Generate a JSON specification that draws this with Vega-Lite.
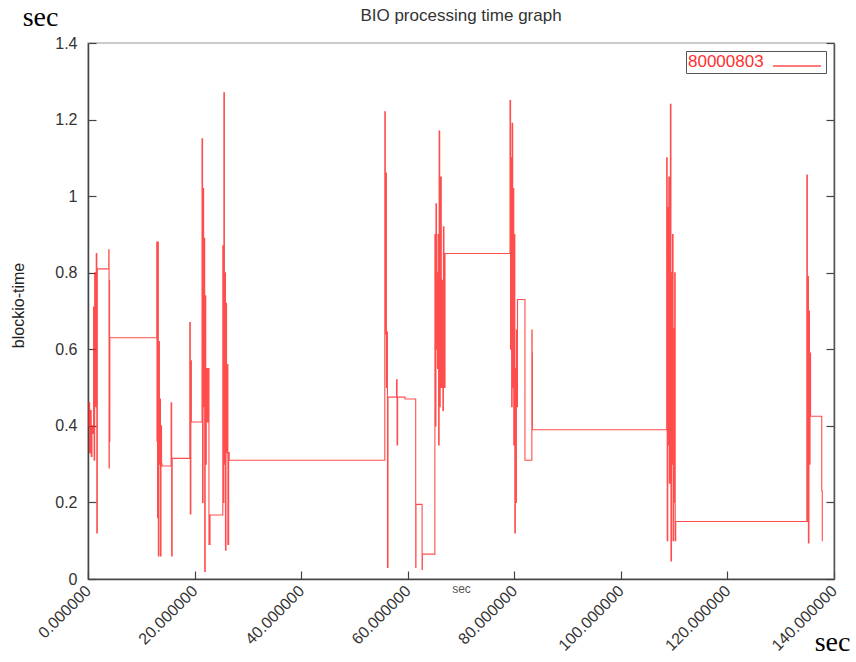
{
  "$schema": "https://vega.github.io/schema/vega-lite/v6.json",
  "description": "BIO processing time graph",
  "autosize": {"type": "none"},
  "padding": {"left": 88, "top": 43, "right": 22, "bottom": 83},
  "width": 746,
  "height": 536,
  "background": "white",
  "title": {
    "text": "BIO processing time graph",
    "font": "Liberation Sans",
    "fontSize": 17,
    "fontWeight": "normal",
    "color": "#333",
    "offset": 18,
    "dy": 40
  },
  "data": {
    "values": [
      {"t": 0.0, "v": 0.40}, {"t": 0.15, "v": 0.46}, {"t": 0.3, "v": 0.33}, {"t": 0.45, "v": 0.44},
      {"t": 0.6, "v": 0.32}, {"t": 0.75, "v": 0.40}, {"t": 0.9, "v": 0.38}, {"t": 1.05, "v": 0.71},
      {"t": 1.15, "v": 0.31}, {"t": 1.25, "v": 0.80}, {"t": 1.4, "v": 0.45}, {"t": 1.55, "v": 0.85},
      {"t": 1.65, "v": 0.12}, {"t": 1.75, "v": 0.81},
      {"t": 3.9, "v": 0.86}, {"t": 3.95, "v": 0.29}, {"t": 4.0, "v": 0.78}, {"t": 4.05, "v": 0.36},
      {"t": 4.1, "v": 0.63},
      {"t": 12.9, "v": 0.88}, {"t": 12.95, "v": 0.36}, {"t": 13.0, "v": 0.71}, {"t": 13.05, "v": 0.16},
      {"t": 13.1, "v": 0.88}, {"t": 13.2, "v": 0.06}, {"t": 13.3, "v": 0.62}, {"t": 13.4, "v": 0.30},
      {"t": 13.5, "v": 0.47}, {"t": 13.6, "v": 0.06}, {"t": 13.7, "v": 0.40}, {"t": 13.8, "v": 0.30},
      {"t": 13.9, "v": 0.295},
      {"t": 15.6, "v": 0.46}, {"t": 15.7, "v": 0.06}, {"t": 15.8, "v": 0.315},
      {"t": 19.1, "v": 0.67}, {"t": 19.2, "v": 0.17}, {"t": 19.3, "v": 0.57}, {"t": 19.4, "v": 0.41},
      {"t": 21.4, "v": 1.15}, {"t": 21.5, "v": 0.20}, {"t": 21.6, "v": 1.02}, {"t": 21.7, "v": 0.45},
      {"t": 21.8, "v": 0.89}, {"t": 21.9, "v": 0.02}, {"t": 22.0, "v": 0.74}, {"t": 22.1, "v": 0.30},
      {"t": 22.2, "v": 0.55}, {"t": 22.35, "v": 0.41}, {"t": 22.5, "v": 0.55}, {"t": 22.7, "v": 0.09},
      {"t": 22.9, "v": 0.167},
      {"t": 25.3, "v": 0.87}, {"t": 25.4, "v": 0.20}, {"t": 25.5, "v": 1.27}, {"t": 25.6, "v": 0.30},
      {"t": 25.7, "v": 0.80}, {"t": 25.8, "v": 0.075}, {"t": 25.9, "v": 0.72}, {"t": 26.0, "v": 0.33},
      {"t": 26.1, "v": 0.56}, {"t": 26.25, "v": 0.09}, {"t": 26.4, "v": 0.33}, {"t": 26.5, "v": 0.31},
      {"t": 55.7, "v": 1.22}, {"t": 55.8, "v": 0.64}, {"t": 55.9, "v": 1.06}, {"t": 56.0, "v": 0.50},
      {"t": 56.1, "v": 0.645}, {"t": 56.2, "v": 0.03}, {"t": 56.3, "v": 0.475},
      {"t": 57.9, "v": 0.52}, {"t": 58.0, "v": 0.35}, {"t": 58.1, "v": 0.475},
      {"t": 59.5, "v": 0.47}, {"t": 61.5, "v": 0.03}, {"t": 61.55, "v": 0.195},
      {"t": 62.7, "v": 0.025}, {"t": 62.75, "v": 0.065},
      {"t": 65.1, "v": 0.90}, {"t": 65.2, "v": 0.40}, {"t": 65.3, "v": 0.98}, {"t": 65.4, "v": 0.60},
      {"t": 65.5, "v": 0.80}, {"t": 65.6, "v": 0.55}, {"t": 65.7, "v": 0.90}, {"t": 65.8, "v": 0.35},
      {"t": 65.9, "v": 1.17}, {"t": 66.0, "v": 0.45}, {"t": 66.1, "v": 0.85}, {"t": 66.2, "v": 1.05},
      {"t": 66.3, "v": 0.50}, {"t": 66.5, "v": 0.78}, {"t": 66.6, "v": 0.44}, {"t": 66.7, "v": 0.92},
      {"t": 66.8, "v": 0.50}, {"t": 67.0, "v": 0.85},
      {"t": 79.2, "v": 1.25}, {"t": 79.3, "v": 0.60}, {"t": 79.4, "v": 1.10}, {"t": 79.5, "v": 0.45},
      {"t": 79.6, "v": 1.19}, {"t": 79.7, "v": 0.50}, {"t": 79.8, "v": 1.02}, {"t": 79.9, "v": 0.35},
      {"t": 80.0, "v": 0.90}, {"t": 80.1, "v": 0.12}, {"t": 80.2, "v": 0.55}, {"t": 80.3, "v": 0.20},
      {"t": 80.4, "v": 0.65}, {"t": 80.5, "v": 0.45}, {"t": 80.6, "v": 0.73},
      {"t": 82.0, "v": 0.31}, {"t": 83.3, "v": 0.65}, {"t": 83.35, "v": 0.59}, {"t": 83.4, "v": 0.39},
      {"t": 108.6, "v": 1.10}, {"t": 108.7, "v": 0.10}, {"t": 108.8, "v": 0.97}, {"t": 108.9, "v": 0.35},
      {"t": 109.0, "v": 1.05}, {"t": 109.1, "v": 0.25}, {"t": 109.3, "v": 1.24}, {"t": 109.4, "v": 0.047},
      {"t": 109.5, "v": 0.80}, {"t": 109.6, "v": 0.30}, {"t": 109.7, "v": 0.90}, {"t": 109.8, "v": 0.10},
      {"t": 109.9, "v": 0.655}, {"t": 110.0, "v": 0.20}, {"t": 110.1, "v": 0.80}, {"t": 110.2, "v": 0.10},
      {"t": 110.3, "v": 0.15},
      {"t": 134.9, "v": 1.055}, {"t": 135.0, "v": 0.15}, {"t": 135.1, "v": 0.79}, {"t": 135.2, "v": 0.094},
      {"t": 135.3, "v": 0.70}, {"t": 135.4, "v": 0.30}, {"t": 135.5, "v": 0.59}, {"t": 135.6, "v": 0.425},
      {"t": 137.7, "v": 0.23}, {"t": 137.8, "v": 0.10}, {"t": 137.9, "v": 0.10}
    ]
  },
  "layer": [
    {
      "mark": {"type": "line", "interpolate": "step-after", "strokeWidth": 1.1, "opacity": 0.8},
      "encoding": {
        "x": {
          "field": "t", "type": "quantitative",
          "scale": {"domain": [0, 140], "nice": false},
          "axis": {
            "orient": "bottom",
            "values": [0, 20, 40, 60, 80, 100, 120, 140],
            "format": ".6f",
            "labelAngle": -45,
            "labelAlign": "right",
            "labelBaseline": "middle",
            "labelPadding": 17,
            "tickSize": -8,
            "title": "sec",
            "titleX": 373,
            "titleY": 13,
            "titleBaseline": "alphabetic",
            "titleFontSize": 12,
            "titleColor": "#555"
          }
        },
        "y": {
          "field": "v", "type": "quantitative",
          "scale": {"domain": [0, 1.4], "nice": false},
          "axis": {
            "orient": "left",
            "values": [0, 0.2, 0.4, 0.6, 0.8, 1, 1.2, 1.4],
            "format": "~g",
            "labelPadding": 19,
            "tickSize": -8,
            "title": "blockio-time",
            "titleFontSize": 16,
            "titleX": -70,
            "titleY": 262,
            "titleAlign": "center",
            "titleBaseline": "middle",
            "titleAngle": -90
          }
        },
        "color": {
          "datum": "80000803",
          "type": "nominal",
          "scale": {"domain": ["80000803"], "range": ["#ff2020"]},
          "legend": {
            "title": "80000803",
            "titleOrient": "left",
            "titleColor": "#ff3030",
            "titleFont": "Liberation Sans",
            "titleFontSize": 17,
            "titleFontWeight": "normal",
            "titlePadding": 20,
            "orient": "top-right",
            "offset": 8,
            "symbolType": "M-2,0L2,0",
            "symbolSize": 576,
            "symbolStrokeWidth": 1.5,
            "labelExpr": "''",
            "labelOffset": 12,
            "padding": 2,
            "fillColor": "white",
            "strokeColor": "#555"
          }
        }
      }
    },
    {
      "mark": {"type": "line", "interpolate": "step-after", "opacity": 0},
      "encoding": {
        "x": {
          "field": "t", "type": "quantitative",
          "axis": {
            "orient": "top",
            "labels": false,
            "ticks": false,
            "domain": false,
            "title": "sec",
            "titleFont": "Liberation Serif",
            "titleFontSize": 28,
            "titleFontWeight": "normal",
            "titleColor": "black",
            "titleX": -48,
            "titleY": -18,
            "titleAlign": "center",
            "titleBaseline": "alphabetic"
          }
        },
        "y": {
          "field": "v", "type": "quantitative",
          "axis": {
            "orient": "right",
            "values": [0, 0.2, 0.4, 0.6, 0.8, 1, 1.2, 1.4],
            "labels": false,
            "tickSize": -8,
            "domainColor": "#555",
            "title": "sec",
            "titleFont": "Liberation Serif",
            "titleFontSize": 28,
            "titleFontWeight": "normal",
            "titleColor": "black",
            "titleAngle": 0,
            "titleX": -2,
            "titleY": 607,
            "titleAlign": "center",
            "titleBaseline": "alphabetic"
          }
        }
      }
    }
  ],
  "resolve": {"axis": {"x": "independent", "y": "independent"}},
  "config": {
    "view": {"stroke": "#bbb", "strokeWidth": 1.5},
    "axis": {
      "grid": false,
      "domainColor": "#444",
      "domainWidth": 1.5,
      "tickColor": "#444",
      "tickWidth": 1.2,
      "labelFont": "Liberation Sans",
      "labelFontSize": 16,
      "labelColor": "#333",
      "titleFont": "Liberation Sans",
      "titleFontSize": 15,
      "titleFontWeight": "normal",
      "titleColor": "#222"
    }
  }
}
